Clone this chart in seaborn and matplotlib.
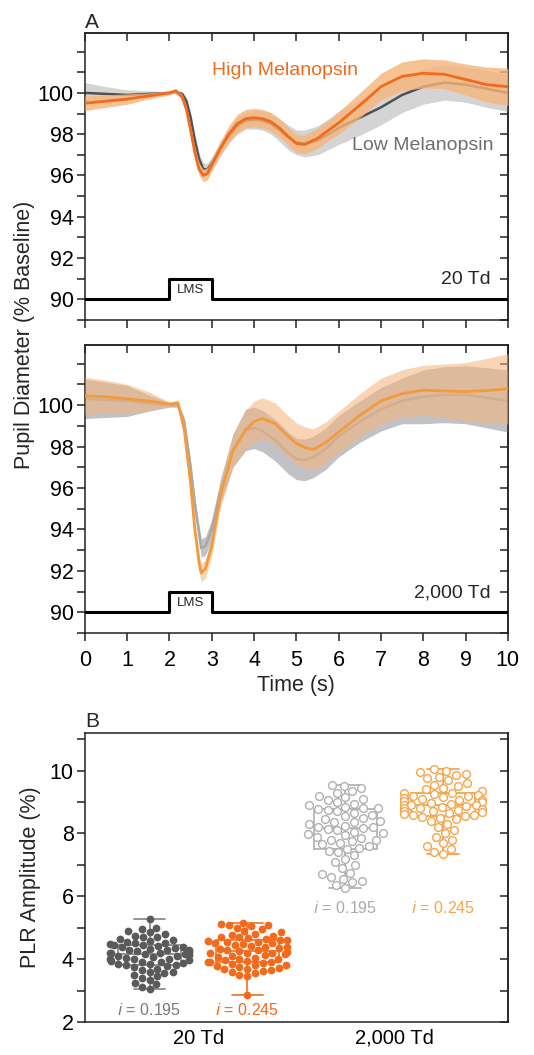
import numpy as np
import pandas as pd
import seaborn as sns
import matplotlib
matplotlib.use('Agg')
import matplotlib.pyplot as plt
from matplotlib.ticker import MultipleLocator

# ---- panel A, 20 Td ----
t20 = [0, 0.5, 1.0, 1.5, 2.0, 2.15, 2.3, 2.4, 2.5, 2.6, 2.7, 2.8, 2.9, 3.0, 3.2, 3.4, 3.6, 3.8,
       4.0, 4.2, 4.4, 4.6, 4.8, 5.0, 5.2, 5.5, 5.8, 6.0, 6.5, 7.0, 7.5, 8.0, 8.5, 9.0, 9.5, 10.0]
high20_mean = [99.5, 99.6, 99.7, 99.85, 100.0, 100.1, 99.8, 99.2, 98.2, 97.1, 96.3, 96.0, 96.1, 96.5,
               97.3, 98.0, 98.5, 98.75, 98.8, 98.75, 98.6, 98.3, 97.9, 97.55, 97.5, 97.8, 98.25, 98.55,
               99.4, 100.3, 100.8, 100.95, 100.9, 100.65, 100.4, 100.3]
high20_err = [0.35, 0.3, 0.25, 0.15, 0.1, 0.1, 0.15, 0.2, 0.25, 0.3, 0.3, 0.3, 0.3, 0.3, 0.35, 0.4,
              0.45, 0.45, 0.45, 0.45, 0.45, 0.45, 0.45, 0.45, 0.45, 0.5, 0.5, 0.55, 0.6, 0.65, 0.7,
              0.7, 0.7, 0.75, 0.85, 0.9]
low20_mean = [100.0, 99.95, 99.9, 99.95, 100.0, 100.05, 99.95, 99.6, 98.8, 97.7, 96.8, 96.3, 96.3, 96.6,
              97.3, 97.9, 98.4, 98.65, 98.7, 98.65, 98.5, 98.2, 97.85, 97.6, 97.55, 97.7, 98.05, 98.3,
              98.8, 99.3, 99.9, 100.3, 100.5, 100.4, 100.2, 100.0]
low20_err = [0.5, 0.35, 0.25, 0.15, 0.05, 0.05, 0.1, 0.2, 0.25, 0.3, 0.3, 0.3, 0.3, 0.3, 0.35, 0.35,
             0.4, 0.4, 0.45, 0.45, 0.5, 0.55, 0.6, 0.6, 0.65, 0.7, 0.75, 0.8, 0.85, 0.85, 0.85, 0.85,
             0.85, 0.85, 0.9, 0.9]

# ---- panel A, 2,000 Td ----
t2000 = [0, 0.5, 1.0, 1.5, 2.0, 2.2, 2.35, 2.5, 2.6, 2.7, 2.75, 2.85, 3.0, 3.2, 3.5, 3.8, 4.0, 4.2,
         4.5, 4.8, 5.0, 5.2, 5.4, 5.7, 6.0, 6.5, 7.0, 7.5, 8.0, 8.5, 9.0, 9.5, 10.0]
high2000_mean = [100.45, 100.4, 100.3, 100.2, 100.05, 100.1, 98.8, 96.2, 94.0, 92.4, 91.9, 92.1, 93.2,
                 95.6, 97.8, 98.8, 99.2, 99.35, 99.1, 98.5, 98.15, 97.95, 97.85, 98.2, 98.7, 99.5,
                 100.2, 100.55, 100.72, 100.68, 100.65, 100.7, 100.78]
high2000_err = [0.9, 0.8, 0.7, 0.45, 0.1, 0.15, 0.25, 0.35, 0.4, 0.45, 0.45, 0.45, 0.5, 0.6, 0.8,
                0.95, 1.0, 1.0, 1.0, 1.0, 1.0, 1.0, 1.0, 1.0, 1.0, 1.05, 1.1, 1.15, 1.2, 1.3, 1.4,
                1.55, 1.7]
low2000_mean = [100.3, 100.25, 100.2, 100.1, 100.0, 100.0, 99.2, 97.0, 95.2, 93.8, 93.1, 93.2, 94.0,
                95.8, 97.8, 98.8, 98.9, 98.75, 98.3, 97.7, 97.4, 97.35, 97.5, 97.9, 98.5, 99.2, 99.8,
                100.2, 100.4, 100.5, 100.5, 100.35, 100.2]
low2000_err = [0.95, 0.85, 0.75, 0.4, 0.1, 0.1, 0.2, 0.3, 0.35, 0.4, 0.45, 0.45, 0.5, 0.6, 0.8, 1.0,
               1.0, 1.0, 1.0, 1.0, 1.0, 1.0, 1.0, 1.0, 1.0, 1.0, 1.05, 1.1, 1.3, 1.35, 1.4, 1.45, 1.5]

# stimulus trace
stim_t = [0, 2, 2, 3, 3, 10]
stim_y = [90, 90, 91, 91, 90, 90]

# ---- panel B ----
conds = ['low20', 'high20', 'low2000', 'high2000']
low20_amp = [5.28, 5.0, 4.95, 4.9, 4.85, 4.8, 4.75, 4.72, 4.7, 4.65, 4.6, 4.58, 4.55, 4.52, 4.5, 4.48,
             4.45, 4.45, 4.42, 4.4, 4.38, 4.35, 4.33, 4.3, 4.3, 4.28, 4.25, 4.22, 4.2, 4.2, 4.18, 4.15,
             4.15, 4.12, 4.1, 4.1, 4.08, 4.05, 4.02, 4.0, 4.0, 3.98, 3.95, 3.92, 3.9, 3.88, 3.85, 3.85,
             3.82, 3.8, 3.78, 3.75, 3.7, 3.65, 3.6, 3.58, 3.55, 3.5, 3.45, 3.4, 3.35, 3.25, 3.2, 3.1, 3.05]
high20_amp = [5.15, 5.12, 5.1, 5.08, 5.05, 5.0, 4.95, 4.9, 4.85, 4.8, 4.78, 4.75, 4.72, 4.7, 4.68, 4.65,
              4.62, 4.6, 4.58, 4.55, 4.55, 4.52, 4.5, 4.48, 4.45, 4.42, 4.4, 4.38, 4.35, 4.32, 4.3, 4.28,
              4.25, 4.22, 4.2, 4.2, 4.18, 4.15, 4.12, 4.1, 4.08, 4.05, 4.02, 4.0, 3.98, 3.95, 3.92, 3.9,
              3.9, 3.88, 3.85, 3.82, 3.8, 3.78, 3.75, 3.72, 3.7, 3.68, 3.65, 3.62, 3.6, 3.55, 3.5, 3.45, 2.85]
low2000_amp = [9.55, 9.5, 9.45, 9.35, 9.3, 9.2, 9.15, 9.1, 9.05, 9.0, 8.95, 8.9, 8.85, 8.82, 8.8, 8.78,
               8.75, 8.7, 8.65, 8.6, 8.55, 8.5, 8.45, 8.4, 8.38, 8.35, 8.3, 8.25, 8.22, 8.2, 8.18, 8.15,
               8.1, 8.05, 8.0, 7.98, 7.95, 7.9, 7.85, 7.8, 7.78, 7.75, 7.7, 7.65, 7.6, 7.55, 7.5, 7.45,
               7.4, 7.3, 7.2, 7.1, 7.0, 6.9, 6.75, 6.7, 6.6, 6.55, 6.5, 6.45, 6.35, 6.25]
high2000_amp = [10.05, 10.0, 9.95, 9.9, 9.85, 9.8, 9.75, 9.7, 9.6, 9.55, 9.5, 9.45, 9.4, 9.35, 9.3, 9.28,
                9.25, 9.22, 9.2, 9.18, 9.15, 9.12, 9.1, 9.08, 9.05, 9.02, 9.0, 8.98, 8.95, 8.92, 8.9, 8.9,
                8.88, 8.85, 8.82, 8.8, 8.78, 8.75, 8.72, 8.7, 8.68, 8.65, 8.62, 8.6, 8.58, 8.55, 8.52, 8.5,
                8.45, 8.4, 8.3, 8.2, 8.1, 8.0, 7.9, 7.8, 7.7, 7.6, 7.5, 7.4, 7.35]
icc_labels = ['0.195', '0.245', '0.195', '0.245']
group_labels = ['20 Td', '2,000 Td']

sns.set_style('ticks')
plt.rcParams['font.family'] = ['Liberation Sans', 'DejaVu Sans']

fig = plt.figure(figsize=(5.34, 10.55), dpi=100)
axA1 = fig.add_axes([0.159, 0.6967, 0.792, 0.272])
axA2 = fig.add_axes([0.159, 0.400, 0.792, 0.273])
axB = fig.add_axes([0.159, 0.0313, 0.792, 0.274])


def style_frame(ax, top=True):
    for s in ax.spines.values():
        s.set_visible(True)
        s.set_linewidth(1.1)
        s.set_color('#222222')
    ax.tick_params(which='both', direction='out', length=6, width=1.1, colors='#222222',
                   labelsize=15.5, pad=2, labelcolor='black')
    right = ax.secondary_yaxis('right')
    right.set_yticks(ax.get_yticks())
    right.yaxis.set_minor_locator(MultipleLocator(1))
    right.tick_params(which='both', direction='in', length=6, width=1.1, labelright=False)
    right.spines['right'].set_linewidth(1.1)
    if top:
        tp = ax.secondary_xaxis('top')
        tp.set_xticks(range(0, 11))
        tp.tick_params(direction='in', length=6, width=1.1, labeltop=False)
        tp.spines['top'].set_linewidth(1.1)


def trace_panel(ax, t, hi_m, hi_e, lo_m, lo_e, hi_line, hi_band, hi_alpha, lo_line, lo_band):
    hi_m, hi_e, lo_m, lo_e = map(np.asarray, (hi_m, hi_e, lo_m, lo_e))
    ax.fill_between(t, lo_m - lo_e, lo_m + lo_e, color=lo_band, lw=0, zorder=1)
    sns.lineplot(x=t, y=lo_m, ax=ax, color=lo_line, lw=1.8, zorder=2)
    ax.fill_between(t, hi_m - hi_e, hi_m + hi_e, color=hi_band, alpha=hi_alpha, lw=0, zorder=3)
    sns.lineplot(x=t, y=hi_m, ax=ax, color=hi_line, lw=2.0, zorder=4)
    sns.lineplot(x=stim_t, y=stim_y, ax=ax, color='black', lw=2.2, zorder=5, estimator=None, sort=False)
    ax.text(2.5, 90.45, 'LMS', ha='center', va='center', fontsize=9.5)
    ax.set_xlim(0, 10)
    ax.set_ylim(89.0, 102.9)
    ax.set_yticks([90, 92, 94, 96, 98, 100, 102])
    ax.set_yticklabels(['90', '92', '94', '96', '98', '100', ''])
    ax.yaxis.set_minor_locator(MultipleLocator(1))
    ax.set_xticks(range(0, 11))
    ax.set_ylabel('')
    style_frame(ax)


trace_panel(axA1, t20, high20_mean, high20_err, low20_mean, low20_err,
            '#f26a1b', '#f6b57a', 0.8, '#505050', '#d4d4d4')
axA1.set_xticklabels([])
axA1.text(3.0, 101.1, 'High Melanopsin', color='#f26a1b', fontsize=14, ha='left', va='center')
axA1.text(9.65, 97.45, 'Low Melanopsin', color='#6e6e6e', fontsize=14, ha='right', va='center')
axA1.text(9.6, 90.95, '20 Td', fontsize=14, ha='right', va='center')
axA1.text(0.0, 1.005, 'A', transform=axA1.transAxes, fontsize=15, ha='left', va='bottom')

trace_panel(axA2, t2000, high2000_mean, high2000_err, low2000_mean, low2000_err,
            '#f39a3c', '#f5b47a', 0.55, '#a8a8a8', '#c2c2c6')
axA2.set_xticklabels([str(i) for i in range(0, 11)])
axA2.set_xlabel('Time (s)', fontsize=15.5, labelpad=3)
axA2.text(9.6, 90.95, '2,000 Td', fontsize=14, ha='right', va='center')
axA2.tick_params(axis='x', pad=6)

fig.text(0.046, 1 - 335 / 1055, 'Pupil Diameter (% Baseline)', rotation=90,
         ha='center', va='center', fontsize=15.5)

# ---- panel B ----
amps = [low20_amp, high20_amp, low2000_amp, high2000_amp]
df = pd.DataFrame({
    'cond': np.concatenate([[c] * len(a) for c, a in zip(conds, amps)]),
    'amp': np.concatenate(amps),
})
box_colors = dict(zip(conds, ['#8c8c8c', '#f47b32', '#b4b4b4', '#f5a54a']))
pt_colors = dict(zip(conds, ['#5a5a5a', '#f26a1b', '#b0b0b0', '#f5a54a']))
txt_colors = ['#7a7a7a', '#f26a1b', '#ababab', '#f5a54a']

sns.boxplot(data=df, x='cond', y='amp', hue='cond', order=conds, hue_order=conds,
            palette=box_colors, whis=(0, 100), fill=False, width=0.65, linewidth=1.3,
            showfliers=False, legend=False, ax=axB)
for c in conds:
    n0 = len(axB.collections)
    sns.swarmplot(data=df[df['cond'] == c], x='cond', y='amp', order=conds, color=pt_colors[c],
                  size=5.6, ax=axB, warn_thresh=1.0, zorder=5)
    if c in ('low2000', 'high2000'):
        for coll in axB.collections[n0:]:
            coll.set_facecolor('white')
            coll.set_edgecolor(pt_colors[c])
            coll.set_linewidth(1.0)

for i, (lab, col) in enumerate(zip(icc_labels, txt_colors)):
    ypos = 2.38 if i < 2 else 5.63
    axB.text(i, ypos, r'$\it{i}$ = ' + lab, color=col, fontsize=11.5, ha='center', va='center')

axB.set_xlim(-0.66, 3.66)
axB.set_ylim(2, 11.2)
axB.set_yticks([2, 4, 6, 8, 10])
axB.yaxis.set_minor_locator(MultipleLocator(1))
axB.set_xticks([0.5, 2.5])
axB.set_xticklabels(group_labels, fontsize=14.5)
axB.set_xlabel('')
axB.set_ylabel('PLR Amplitude (%)', fontsize=15.5, labelpad=6)
style_frame(axB, top=False)
axB.tick_params(axis='x', length=0, pad=5, labelsize=14.5)
axB.text(0.0, 1.005, 'B', transform=axB.transAxes, fontsize=15, ha='left', va='bottom')

fig.savefig('out.png', dpi=100)
